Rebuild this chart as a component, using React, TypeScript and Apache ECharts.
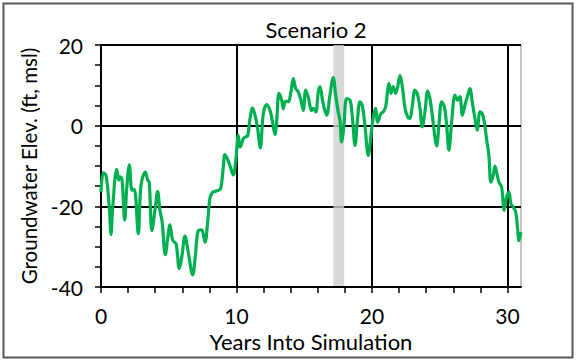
import React, { useEffect, useRef } from "react";
import * as echarts from "echarts";

const years = [
  0.0, 0.17, 0.37, 0.61, 0.74, 0.86, 1.16, 1.31, 1.4, 1.55, 1.75, 1.9, 2.09, 2.29, 2.46, 2.75, 2.95, 3.27, 3.45, 3.56,
  3.76, 4.01, 4.18, 4.35, 4.5, 4.75, 4.92, 5.09, 5.29, 5.54, 5.78, 5.96, 6.2, 6.44, 6.77, 6.94, 7.18, 7.43, 7.68, 7.85,
  8.04, 8.24, 8.41, 8.61, 8.83, 9.03, 9.15, 9.47, 9.76, 9.96, 10.13, 10.26, 10.38, 10.5, 10.68, 10.83, 11.0, 11.17,
  11.37, 11.56, 11.76, 11.98, 12.23, 12.47, 12.64, 12.84, 12.97, 13.14, 13.34, 13.45, 13.63, 13.82, 14.02, 14.19, 14.37,
  14.56, 14.76, 14.93, 15.11, 15.3, 15.54, 15.67, 15.85, 16.04, 16.16, 16.33, 16.48, 16.66, 16.9, 17.14, 17.32, 17.51,
  17.64, 17.76, 17.93, 18.13, 18.38, 18.55, 18.75, 18.94, 19.11, 19.28, 19.48, 19.73, 19.93, 20.1, 20.27, 20.42, 20.66,
  20.83, 21.01, 21.16, 21.25, 21.4, 21.57, 21.75, 21.9, 22.07, 22.24, 22.44, 22.63, 22.8, 22.97, 23.17, 23.37, 23.54,
  23.71, 23.91, 24.11, 24.28, 24.45, 24.78, 24.94, 25.14, 25.34, 25.51, 25.68, 25.88, 26.13, 26.32, 26.49, 26.67, 26.86,
  27.11, 27.23, 27.4, 27.6, 27.77, 27.97, 28.14, 28.29, 28.47, 28.63, 28.78, 28.95, 29.08, 29.2, 29.37, 29.57, 29.76,
  29.94, 30.11, 30.26, 30.43, 30.61, 30.75, 30.85, 31.0,
];

const elevation = [
  -16.5, -11.7, -12.3, -20.2, -27.0, -20.5, -10.8, -13.5, -12.7, -13.3, -23.4, -15.5, -9.7, -16.0, -15.8, -26.8, -14.8,
  -11.5, -13.5, -14.0, -26.0, -20.2, -16.3, -21.0, -23.5, -32.0, -28.0, -24.6, -28.4, -29.3, -35.4, -32.6, -27.4, -31.4,
  -37.0, -33.1, -26.0, -25.8, -28.9, -24.8, -18.0, -16.5, -16.3, -16.1, -15.6, -10.2, -7.2, -9.4, -12.2, -8.2, -2.4,
  -5.3, -4.5, -3.2, -2.8, -2.5, 1.8, 4.4, 2.6, -0.7, -5.5, 3.0, 5.2, 3.8, 1.3, -2.2, 1.3, 8.0, 6.3, 4.2, 6.1, 5.9, 8.4,
  11.7, 9.2, 8.4, 6.3, 3.8, 8.8, 7.0, 3.7, 4.3, 3.4, 8.4, 9.7, 6.7, 4.3, 2.6, 7.6, 11.9, 7.6, 3.4, 1.3, -4.0, 0.1, 6.7,
  6.3, 2.2, -4.9, 1.8, 5.9, 5.1, 0.1, -7.4, -2.4, 2.2, 4.3, 0.9, 3.0, 3.4, 4.7, 8.8, 10.5, 8.0, 9.7, 8.0, 9.7, 12.5, 9.7,
  4.3, 2.2, 1.8, 4.7, 8.8, 7.6, 4.3, -0.3, 3.4, 8.6, 6.7, 2.6, -5.0, 0.1, 5.9, 4.7, 0.1, -6.1, 0.9, 7.6, 6.3, 7.2, 2.6,
  5.1, 8.0, 9.2, 5.9, 1.8, -1.1, 3.4, 3.0, 0.9, -3.6, -7.4, -14.0, -12.3, -10.0, -11.5, -14.0, -15.2, -21.0, -17.7,
  -16.5, -19.4, -20.2, -21.4, -25.6, -28.5, -26.4,
];

const xMajorTicks = [0, 10, 20, 30];
const xAllTicks = [0, 2, 4, 6, 8, 10, 12, 14, 16, 18, 20, 22, 24, 26, 28, 30];
const xGridLines = [10, 20, 30];
const shadedBand = [17.15, 17.95];

const FONT = "Lato";

export default function App() {
  const ref = useRef<HTMLDivElement>(null);
  useEffect(() => {
    if (!ref.current) return;
    const chart = echarts.init(ref.current, undefined, { renderer: "svg" });
    const data = years.map((y, i) => [y, elevation[i]]);
    chart.setOption({
      animation: false,
      backgroundColor: "#ffffff",
      title: {
        text: "Scenario 2",
        left: 311,
        top: 13,
        textAlign: "center",
        textStyle: { fontFamily: FONT, fontSize: 22, fontWeight: "normal", color: "#000" },
      },
      grid: {
        left: 101,
        right: 56,
        top: 45,
        bottom: 75,
        show: true,
        borderColor: "#8c8c8c",
        borderWidth: 1,
      },
      xAxis: [
        {
          type: "value",
          min: 0,
          max: 31,
          name: "Years Into Simulation",
          nameLocation: "middle",
          nameGap: 42,
          nameTextStyle: { fontFamily: FONT, fontSize: 22, color: "#000" },
          axisLine: { show: true, onZero: false, lineStyle: { color: "#000", width: 2 } },
          axisTick: { show: true, customValues: xAllTicks, length: 6, lineStyle: { color: "#000", width: 1.5 } },
          axisLabel: { customValues: xMajorTicks, margin: 18, fontFamily: FONT, fontSize: 21, color: "#000" },
          splitLine: { show: false },
          z: 5,
        },
        {
          type: "value",
          min: 0,
          max: 31,
          position: "bottom",
          axisLine: { show: false },
          axisTick: { show: false, customValues: xGridLines },
          axisLabel: { show: false, customValues: xGridLines },
          splitLine: { show: true, lineStyle: { color: "#000", width: 2 } },
        },
      ],
      yAxis: {
        type: "value",
        min: -40,
        max: 20,
        interval: 20,
        name: "Groundwater Elev. (ft, msl)",
        nameLocation: "middle",
        nameGap: 59,
        nameTextStyle: { fontFamily: FONT, fontSize: 20.5, color: "#000" },
        axisLine: { show: true, onZero: false, lineStyle: { color: "#000", width: 2 } },
        axisTick: { show: true, length: 6, lineStyle: { color: "#000", width: 1.5 } },
        minorTick: { show: true, splitNumber: 4, length: 6, lineStyle: { color: "#000", width: 1.5 } },
        axisLabel: { margin: 18, fontFamily: FONT, fontSize: 21, color: "#000" },
        splitLine: { show: true, lineStyle: { color: "#000", width: 2 } },
      },
      series: [
        {
          type: "line",
          data: [],
          xAxisIndex: 0,
          z: 1,
          silent: true,
          markArea: {
            silent: true,
            itemStyle: { color: "rgba(205,205,205,0.8)" },
            data: [[{ xAxis: shadedBand[0] }, { xAxis: shadedBand[1] }]],
          },
        },
        {
          type: "line",
          data,
          xAxisIndex: 0,
          z: 3,
          smooth: 0.35,
          showSymbol: false,
          symbol: "none",
          lineStyle: { color: "#00B050", width: 3.2 },
        },
      ],
      graphic: [
        {
          type: "rect",
          shape: { x: 3.5, y: 3.5, width: 569, height: 354 },
          style: { fill: "none", stroke: "#595959", lineWidth: 2 },
          silent: true,
          z: 100,
        },
      ],
    });
    return () => chart.dispose();
  }, []);
  return <div ref={ref} style={{ position: "fixed", left: 0, top: 0, width: 577, height: 362 }} />;
}
